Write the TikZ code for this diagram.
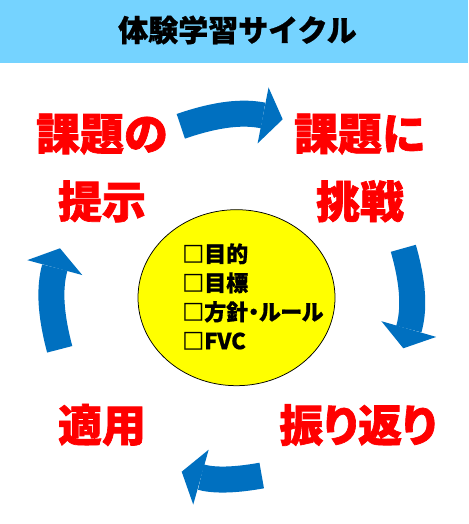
\documentclass[tikz,border=0pt]{standalone}
\usepackage{fontspec}
\setmainfont{Noto Sans CJK JP}
\newfontfamily\jpm{Noto Sans CJK JP}[BoldFeatures={FakeBold=0.8}]
\newfontfamily\jpp{Noto Sans CJK JP}[RawFeature=+palt,BoldFeatures={FakeBold=0.8}]
\newfontfamily\jph{Noto Sans CJK JP}[BoldFeatures={FakeBold=1.5}]
\newfontfamily\jphp{Noto Sans CJK JP}[RawFeature=+palt,BoldFeatures={FakeBold=1.5}]
\usetikzlibrary{arrows.meta,shapes.geometric}
\definecolor{hdr}{RGB}{117,211,255}
\definecolor{arw}{RGB}{0,112,192}
\definecolor{lblred}{RGB}{255,0,0}
\definecolor{ell}{RGB}{255,255,0}
\begin{document}
\begin{tikzpicture}[x=1pt,y=1pt,
  lbl/.style={text=lblred, font=\jph\bfseries\fontsize{44}{68}\selectfont, align=center, inner sep=0pt},
  cyc/.style={draw=arw, line width=26pt, -{Triangle[length=20pt,width=57pt,line width=0pt]}},
  ttl/.style={font=\jpm\bfseries\fontsize{30}{30}\selectfont, inner sep=0pt},
  lst/.style={font=\jpm\bfseries\fontsize{22}{29}\selectfont, align=left, inner sep=0pt, anchor=west},
]
\useasboundingbox (0,0) rectangle (468,524);
\fill[hdr] (0,461) rectangle (468,524);
\node[ttl] (title) at (237.5,494) {体験学習サイクル};
\node[ellipse, draw=black, line width=0.75pt, fill=ell, minimum width=197pt, minimum height=176pt, inner sep=0pt] (goal) at (236.5,226.3) {};
\node[lst] (list) at (182,227.5) {□目的\\□目標\\{\jpp\bfseries □方針・ルール}\\□FVC};
\node[lbl] (present) at (102,356) {課題の\\提示};
\node[lbl] (challenge) at (360,356) {課題に\\挑戦};
\node[lbl] (reflect) at (358,99) {\jphp 振り返り};
\node[lbl] (apply) at (102,99) {適用};
\coordinate (a1s) at (180.8,397.7); \coordinate (a1e) at (282.7,404.7);
\coordinate (a2s) at (403.3,275.7); \coordinate (a2e) at (403.3,175.7);
\coordinate (a3s) at (261.7,48.5);  \coordinate (a3e) at (181.7,52.3);
\coordinate (a4s) at (59.7,174.7);  \coordinate (a4e) at (60,275.7);
\draw[cyc] (a1s) to[bend left=15] (a1e);
\draw[cyc] (a2s) to[bend left=16] (a2e);
\draw[cyc] (a3s) to[bend left=13] (a3e);
\draw[cyc] (a4s) to[bend left=15] (a4e);
\end{tikzpicture}
\end{document}
